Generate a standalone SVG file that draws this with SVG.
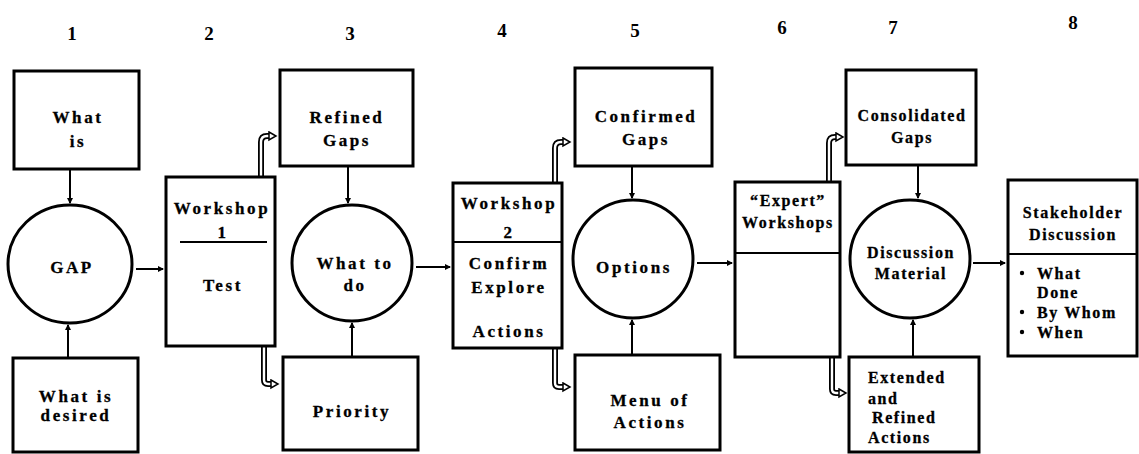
<svg xmlns="http://www.w3.org/2000/svg" width="1139" height="454" viewBox="0 0 1139 454">
  <style>
    .box { fill: #fff; stroke: #000; stroke-width: 3; }
    .ring { fill: #fff; stroke: #000; stroke-width: 3; }
    .div { stroke: #000; stroke-width: 2; }
    .t { font-family: "Liberation Serif", "Times New Roman", serif; font-weight: bold; font-size: 17px; letter-spacing: 2.6px; fill: #000; stroke: #000; stroke-width: 0.3; text-anchor: middle; }
    .tl { text-anchor: start; }
    .ts { font-size: 16px; letter-spacing: 1.6px; }
    .num { font-family: "Liberation Serif", "Times New Roman", serif; font-weight: bold; font-size: 19px; fill: #000; text-anchor: middle; }
    .link { fill: none; stroke: #000; stroke-width: 2; }
    .pipe-o { fill: none; stroke: #000; stroke-width: 6; }
    .pipe-i { fill: none; stroke: #fff; stroke-width: 2.4; }
  </style>
  <defs>
    <marker id="tip" markerUnits="userSpaceOnUse" markerWidth="7" markerHeight="7" refX="5" refY="3" orient="auto">
      <path d="M0,0 L6,3 L0,6 Z" fill="#000"/>
    </marker>
    <marker id="hollow" markerUnits="userSpaceOnUse" markerWidth="12" markerHeight="12" refX="4" refY="5" orient="auto">
      <path d="M1,1 L8,5 L1,9 Z" fill="#fff" stroke="#000" stroke-width="1.5"/>
    </marker>
  </defs>

  <!-- stage numbers -->
  <g id="stage-numbers">
    <text class="num" x="72" y="40">1</text>
    <text class="num" x="209" y="40">2</text>
    <text class="num" x="350" y="40">3</text>
    <text class="num" x="502" y="37">4</text>
    <text class="num" x="635" y="37">5</text>
    <text class="num" x="782" y="34">6</text>
    <text class="num" x="893" y="34">7</text>
    <text class="num" x="1073" y="29">8</text>
  </g>

  <!-- connectors -->
  <g id="connectors">
    <line class="link" x1="70" y1="169" x2="70" y2="203" marker-end="url(#tip)"/>
    <line class="link" x1="68" y1="358" x2="68" y2="325" marker-end="url(#tip)"/>
    <line class="link" x1="136" y1="269" x2="163" y2="269" marker-end="url(#tip)"/>
    <line class="link" x1="348" y1="166" x2="348" y2="203" marker-end="url(#tip)"/>
    <line class="link" x1="352" y1="357" x2="352" y2="323" marker-end="url(#tip)"/>
    <line class="link" x1="416" y1="267" x2="450" y2="267" marker-end="url(#tip)"/>
    <line class="link" x1="632" y1="166" x2="632" y2="198" marker-end="url(#tip)"/>
    <line class="link" x1="632" y1="355" x2="632" y2="320" marker-end="url(#tip)"/>
    <line class="link" x1="697" y1="263" x2="732" y2="263" marker-end="url(#tip)"/>
    <line class="link" x1="918" y1="165" x2="918" y2="198" marker-end="url(#tip)"/>
    <line class="link" x1="913" y1="357" x2="913" y2="320" marker-end="url(#tip)"/>
    <line class="link" x1="973" y1="263" x2="1005" y2="263" marker-end="url(#tip)"/>

    <!-- workshop hand-offs: hollow pipes -->
    <path class="pipe-o" d="M261,177 V142 Q261,136 267,136 H272"/>
    <path class="pipe-i" d="M261,177 V142 Q261,136 267,136 H272" marker-end="url(#hollow)"/>
    <path class="pipe-o" d="M264,346 V380 Q264,384 268,384 H274"/>
    <path class="pipe-i" d="M264,346 V380 Q264,384 268,384 H274" marker-end="url(#hollow)"/>

    <path class="pipe-o" d="M555,183 V148 Q555,142 561,142 H566"/>
    <path class="pipe-i" d="M555,183 V148 Q555,142 561,142 H566" marker-end="url(#hollow)"/>
    <path class="pipe-o" d="M555,348 V383 Q555,387 559,387 H566"/>
    <path class="pipe-i" d="M555,348 V383 Q555,387 559,387 H566" marker-end="url(#hollow)"/>

    <path class="pipe-o" d="M829,182 V143 Q829,137 835,137 H839"/>
    <path class="pipe-i" d="M829,182 V143 Q829,137 835,137 H839" marker-end="url(#hollow)"/>
    <path class="pipe-o" d="M832,357 V389 Q832,393 836,393 H842"/>
    <path class="pipe-i" d="M832,357 V389 Q832,393 836,393 H842" marker-end="url(#hollow)"/>
  </g>

  <!-- stage 1 -->
  <g id="what-is">
    <rect class="box" x="14" y="71" width="125" height="98"/>
    <text class="t" x="78" y="123">What</text>
    <text class="t" x="78" y="147">is</text>
  </g>
  <g id="gap">
    <ellipse class="ring" cx="70" cy="264" rx="62" ry="59"/>
    <text class="t" x="72" y="273">GAP</text>
  </g>
  <g id="what-is-desired">
    <rect class="box" x="13" y="358" width="125" height="94"/>
    <text class="t" x="76" y="402">What is</text>
    <text class="t" x="76" y="421">desired</text>
  </g>

  <!-- stage 2 -->
  <g id="workshop-1">
    <rect class="box" x="166" y="177" width="109" height="169"/>
    <text class="t" x="222" y="214">Workshop</text>
    <text class="t" x="223" y="238">1</text>
    <line class="div" x1="180" y1="242" x2="267" y2="242"/>
    <text class="t" x="223" y="291">Test</text>
  </g>

  <!-- stage 3 -->
  <g id="refined-gaps">
    <rect class="box" x="280" y="70" width="133" height="96"/>
    <text class="t" x="347" y="123">Refined</text>
    <text class="t" x="347" y="146">Gaps</text>
  </g>
  <g id="what-to-do">
    <ellipse class="ring" cx="352" cy="263" rx="60" ry="58"/>
    <text class="t" x="355" y="269">What to</text>
    <text class="t" x="355" y="291">do</text>
  </g>
  <g id="priority">
    <rect class="box" x="283" y="357" width="135" height="93"/>
    <text class="t" x="352" y="417">Priority</text>
  </g>

  <!-- stage 4 -->
  <g id="workshop-2">
    <rect class="box" x="453" y="183" width="109" height="165"/>
    <text class="t" x="509" y="209">Workshop</text>
    <text class="t" x="509" y="238">2</text>
    <line class="div" x1="453" y1="242" x2="562" y2="242"/>
    <text class="t" x="509" y="269">Confirm</text>
    <text class="t" x="509" y="293">Explore</text>
    <text class="t" x="509" y="337">Actions</text>
  </g>

  <!-- stage 5 -->
  <g id="confirmed-gaps">
    <rect class="box" x="575" y="68" width="137" height="98"/>
    <text class="t" x="646" y="122">Confirmed</text>
    <text class="t" x="646" y="145">Gaps</text>
  </g>
  <g id="options">
    <ellipse class="ring" cx="633" cy="259" rx="60" ry="59"/>
    <text class="t" x="634" y="273">Options</text>
  </g>
  <g id="menu-of-actions">
    <rect class="box" x="575" y="355" width="145" height="95"/>
    <text class="t" x="650" y="406">Menu of</text>
    <text class="t" x="650" y="428">Actions</text>
  </g>

  <!-- stage 6 -->
  <g id="expert-workshops">
    <rect class="box" x="735" y="182" width="105" height="175"/>
    <text class="t ts" x="788" y="206">“Expert”</text>
    <text class="t ts" x="788" y="228">Workshops</text>
    <line class="div" x1="735" y1="253" x2="840" y2="253"/>
  </g>

  <!-- stage 7 -->
  <g id="consolidated-gaps">
    <rect class="box" x="846" y="70" width="130" height="95"/>
    <text class="t ts" x="912" y="121">Consolidated</text>
    <text class="t ts" x="912" y="143">Gaps</text>
  </g>
  <g id="discussion-material">
    <ellipse class="ring" cx="910" cy="259" rx="60" ry="59"/>
    <text class="t ts" x="911" y="258">Discussion</text>
    <text class="t ts" x="911" y="279">Material</text>
  </g>
  <g id="extended-refined-actions">
    <rect class="box" x="849" y="357" width="130" height="95"/>
    <text class="t ts tl" x="868" y="383">Extended</text>
    <text class="t ts tl" x="868" y="404">and</text>
    <text class="t ts tl" x="872" y="423">Refined</text>
    <text class="t ts tl" x="868" y="443">Actions</text>
  </g>

  <!-- stage 8 -->
  <g id="stakeholder-discussion">
    <rect class="box" x="1008" y="180" width="129" height="176"/>
    <text class="t ts" x="1073" y="218">Stakeholder</text>
    <text class="t ts" x="1073" y="240">Discussion</text>
    <line class="div" x1="1008" y1="254" x2="1137" y2="254"/>
    <circle cx="1022" cy="273" r="2.2" fill="#000"/>
    <circle cx="1022" cy="312" r="2.2" fill="#000"/>
    <circle cx="1022" cy="332" r="2.2" fill="#000"/>
    <text class="t ts tl" x="1037" y="279">What</text>
    <text class="t ts tl" x="1037" y="298">Done</text>
    <text class="t ts tl" x="1037" y="318">By Whom</text>
    <text class="t ts tl" x="1037" y="338">When</text>
  </g>
</svg>
